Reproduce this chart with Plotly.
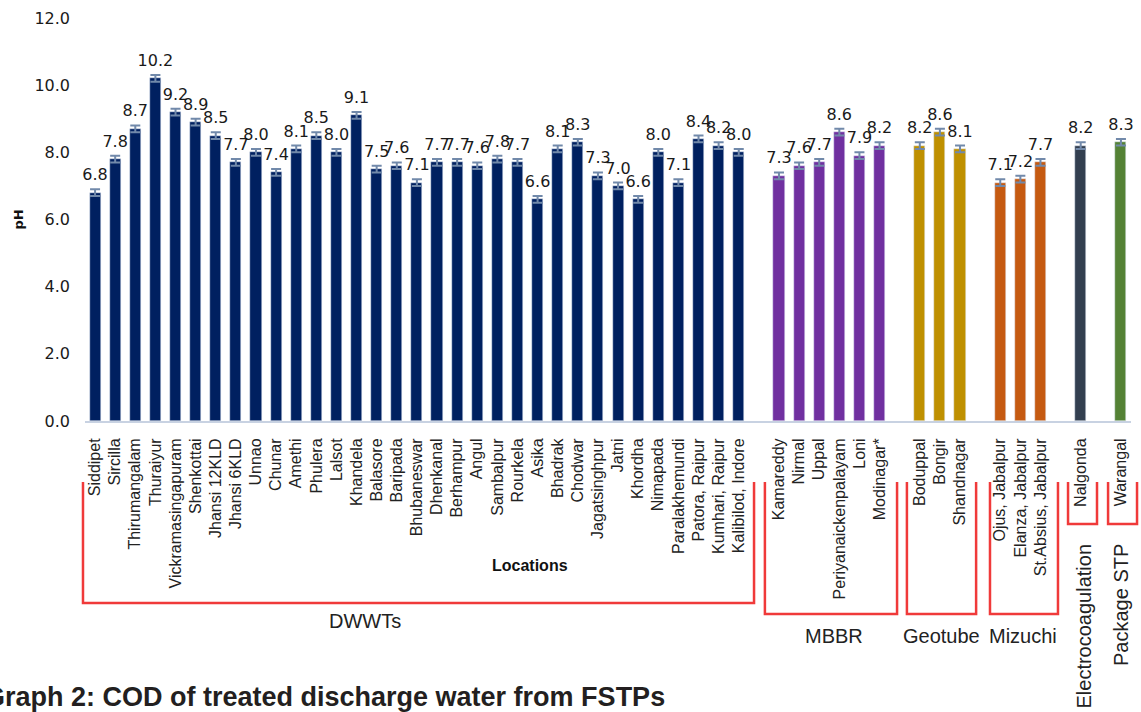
import plotly.graph_objects as go

# pH of treated discharge water by location, grouped by treatment technology
dwwt_sites = ["Siddipet", "Sircilla", "Thirumangalam", "Thuraiyur", "Vickramasingapuram",
              "Shenkottai", "Jhansi 12KLD", "Jhansi 6KLD", "Unnao", "Chunar", "Amethi",
              "Phulera", "Lalsot", "Khandela", "Balasore", "Baripada", "Bhubaneswar",
              "Dhenkanal", "Berhampur", "Angul", "Sambalpur", "Rourkela", "Asika",
              "Bhadrak", "Chodwar", "Jagatsinghpur", "Jatni", "Khordha", "Nimapada",
              "Paralakhemundi", "Patora, Raipur", "Kumhari, Raipur", "Kalibilod, Indore"]
dwwt_ph = [6.8, 7.8, 8.7, 10.2, 9.2, 8.9, 8.5, 7.7, 8.0, 7.4, 8.1,
           8.5, 8.0, 9.1, 7.5, 7.6, 7.1, 7.7, 7.7, 7.6, 7.8, 7.7, 6.6,
           8.1, 8.3, 7.3, 7.0, 6.6, 8.0, 7.1, 8.4, 8.2, 8.0]

mbbr_sites = ["Kamareddy", "Nirmal", "Uppal", "Periyanaickenpalayam", "Loni", "Modinagar*"]
mbbr_ph = [7.3, 7.6, 7.7, 8.6, 7.9, 8.2]

geotube_sites = ["Boduppal", "Bongir", "Shandnagar"]
geotube_ph = [8.2, 8.6, 8.1]

mizuchi_sites = ["Ojus, Jabalpur", "Elanza, Jabalpur", "St.Absius, Jabalpur"]
mizuchi_ph = [7.1, 7.2, 7.7]

electro_sites = ["Nalgonda"]
electro_ph = [8.2]

package_sites = ["Warangal"]
package_ph = [8.3]

ph_error = 0.1
y_ticks = [0, 2, 4, 6, 8, 10, 12]

groups = [
    ("DWWTs", dwwt_sites, dwwt_ph, "#002060"),
    ("MBBR", mbbr_sites, mbbr_ph, "#7030A0"),
    ("Geotube", geotube_sites, geotube_ph, "#BF9000"),
    ("Mizuchi", mizuchi_sites, mizuchi_ph, "#C55A11"),
    ("Electrocoagulation", electro_sites, electro_ph, "#333F50"),
    ("Package STP", package_sites, package_ph, "#548235"),
]

fig = go.Figure()
tickvals, ticktext = [], []
all_x, all_y = [], []
spans = []
slot = 0
for name, sites, vals, color in groups:
    xs = list(range(slot, slot + len(sites)))
    spans.append((xs[0], xs[-1]))
    fig.add_trace(go.Bar(
        x=xs, y=vals, name=name, marker_color=color, width=0.55,
        error_y=dict(type="constant", value=ph_error, color="#7189AA",
                     thickness=2, width=5),
        showlegend=False, hoverinfo="y",
    ))
    tickvals += xs
    ticktext += sites
    all_x += xs
    all_y += vals
    slot += len(sites) + 1

last_slot = all_x[-1]
fig.add_trace(go.Scatter(
    x=all_x, y=[v + ph_error + 0.15 for v in all_y], mode="text",
    text=[f"{v:.1f}" for v in all_y], textposition="top center",
    textfont=dict(family="DejaVu Sans", size=16, color="#1a1a1a"),
    cliponaxis=False, showlegend=False, hoverinfo="skip",
))

L, R, T, B = 85, 10, 18, 291
W, H = 1141, 712
pw, ph = W - L - R, H - T - B


def px_x(px):
    return (px - L) / pw


def px_y(py):
    return (H - B - py) / ph


def slot_to_paper(s):
    return (s + 0.5) / (last_slot + 1)


# red brackets grouping the locations by technology
bracket_specs = [
    # (group index, left pad, right pad, bottom px, label, label x px, label y px, rotated)
    (0, -0.6, 0.76, 603, "DWWTs", 365, 621, False),
    (1, -0.7, 0.87, 614, "MBBR", 834, 636, False),
    (2, -0.64, 0.8, 614, "Geotube", 941, 636, False),
    (3, -0.51, 0.87, 614, "Mizuchi", 1023, 636, False),
    (4, -0.63, 0.81, 524, "Electrocoagulation", 1083, 542, True),
    (5, -0.64, 0.8, 524, "Package STP", 1121, 542, True),
]
top_px = 482
for gi, lp, rp, bottom, label, lx, ly, rot in bracket_specs:
    a, b = spans[gi]
    x0 = slot_to_paper(a + lp)
    x1 = slot_to_paper(b + rp)
    y0 = px_y(top_px)
    y1 = px_y(bottom)
    fig.add_shape(type="path", xref="paper", yref="paper",
                  path=f"M {x0},{y0} L {x0},{y1} L {x1},{y1} L {x1},{y0}",
                  line=dict(color="#F03A3A", width=2.5))
    if rot:
        fig.add_annotation(x=px_x(lx), y=px_y(ly), xref="paper", yref="paper",
                           text=label, showarrow=False, textangle=-90,
                           xanchor="center", yanchor="top",
                           font=dict(family="Liberation Sans", size=20, color="#222"))
    else:
        fig.add_annotation(x=px_x(lx), y=px_y(ly), xref="paper", yref="paper",
                           text=label, showarrow=False,
                           xanchor="center", yanchor="middle",
                           font=dict(family="Liberation Sans", size=20, color="#222"))

fig.add_annotation(x=px_x(530), y=px_y(565), xref="paper", yref="paper",
                   text="<b>Locations</b>", showarrow=False,
                   xanchor="center", yanchor="middle",
                   font=dict(family="Liberation Sans", size=16, color="#111"))
fig.add_annotation(x=px_x(18), y=0.5, xref="paper", yref="paper",
                   text="<b>pH</b>", showarrow=False, textangle=-90,
                   xanchor="center", yanchor="middle",
                   font=dict(family="DejaVu Sans", size=13, color="#111"))
fig.add_annotation(x=px_x(667), y=px_y(697), xref="paper", yref="paper",
                   text="<b>Graph 2: COD of treated discharge water from FSTPs</b>",
                   showarrow=False, xanchor="right", yanchor="middle",
                   font=dict(family="Liberation Sans", size=27, color="#231f20"))

fig.update_layout(
    width=W, height=H,
    margin=dict(l=L, r=R, t=T, b=B, autoexpand=False),
    paper_bgcolor="white", plot_bgcolor="white",
    bargap=0,
    xaxis=dict(
        range=[-0.5, last_slot + 0.5], tickmode="array",
        tickvals=tickvals, ticktext=ticktext, tickangle=-90,
        tickfont=dict(family="Liberation Sans", size=16, color="#222"),
        showgrid=False, zeroline=False, showline=True,
        linecolor="#C8D2E2", linewidth=2, ticks="", ticklabelstandoff=9,
    ),
    yaxis=dict(
        range=[0, 12], tickvals=y_ticks, tickformat=".1f",
        tickfont=dict(family="DejaVu Sans", size=16, color="#1a1a1a"),
        showgrid=False, zeroline=False, showline=False, ticks="",
        ticklabelstandoff=14,
    ),
)

fig.write_html("out.html")
